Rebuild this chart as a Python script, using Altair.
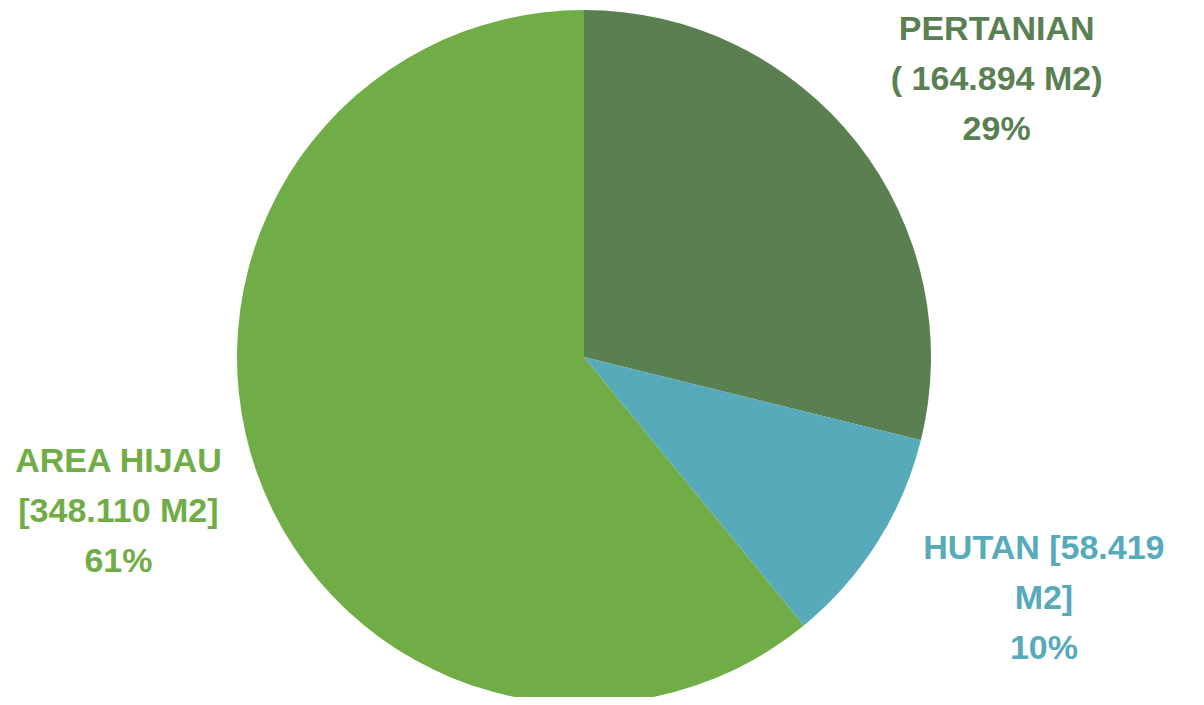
import altair as alt
import pandas as pd

categories = ["PERTANIAN", "HUTAN", "AREA HIJAU"]
areas_m2 = [164894, 58419, 348110]
colors = ["#5A8052", "#57AABA", "#70AD47"]

labels = [
    "PERTANIAN\n( 164.894 M2)\n29%",
    "HUTAN [58.419\nM2]\n10%",
    "AREA HIJAU\n[348.110 M2]\n61%",
]

df = pd.DataFrame({
    "category": categories,
    "area": areas_m2,
    "label": labels,
    "order": list(range(len(categories))),
})

color_scale = alt.Scale(domain=categories, range=colors)

pie = alt.Chart(df).mark_arc(outerRadius=347, stroke=None).encode(
    theta=alt.Theta("area:Q", stack=True),
    order=alt.Order("order:Q"),
    color=alt.Color("category:N", scale=color_scale, legend=None),
)

text_base = (
    alt.Chart(df)
    .transform_joinaggregate(total="sum(area)")
    .transform_window(cum="sum(area)", sort=[alt.SortField("order")])
    .transform_calculate(mid_angle="(datum.cum - datum.area / 2) / datum.total * 2 * PI")
    .encode(
        theta=alt.Theta("mid_angle:Q", scale=None),
        color=alt.Color("category:N", scale=color_scale, legend=None),
        text="label:N",
    )
)

text_style = dict(
    radius=505,
    font="Liberation Sans",
    fontWeight="bold",
    fontSize=34,
    lineHeight=50,
    lineBreak="\n",
    align="center",
    baseline="middle",
)

# per-label nudges (layout only)
nudges = {"PERTANIAN": (15, -16), "HUTAN": (33, -78), "AREA HIJAU": (10, -65)}

text_layers = [
    text_base.transform_filter(alt.datum.category == cat).mark_text(dx=dx, dy=dy, **text_style)
    for cat, (dx, dy) in nudges.items()
]

chart = alt.layer(pie, *text_layers).properties(
    width=1152,
    height=680,
    padding={"left": 0, "top": 9, "right": 36, "bottom": 0},
    autosize=alt.AutoSizeParams(type="none"),
).configure_view(stroke=None)

chart.save("out.html", embed_options={"renderer": "svg", "actions": False})
